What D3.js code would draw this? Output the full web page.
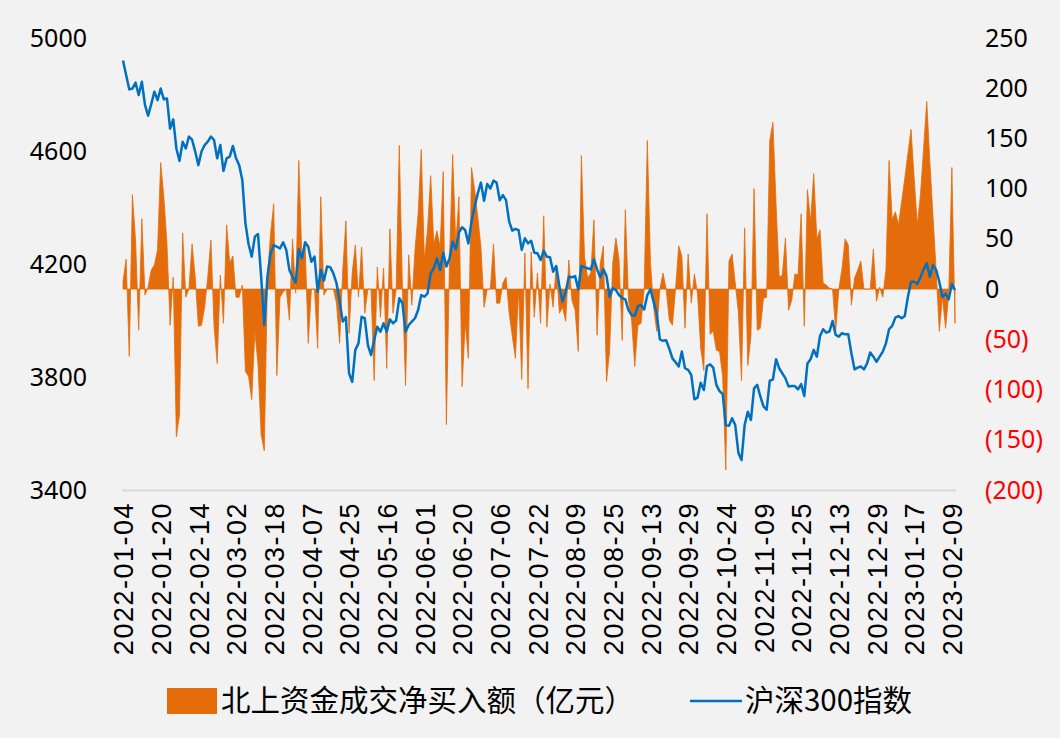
<!DOCTYPE html>
<html><head><meta charset="utf-8">
<script src="https://cdn.jsdelivr.net/npm/d3@7"></script>
<style>
html,body{margin:0;padding:0;background:#f2f2f2;}
svg{display:block;}
</style></head><body>
<svg id="chart" width="1060" height="738"></svg>
<script>
// ---- categories: A-share trading days (weekday closures listed) ----
const startDate = "2022-01-04";
const endDate = "2023-02-10";
const holidays = ["2022-01-03","2022-01-31","2022-02-01","2022-02-02","2022-02-03","2022-02-04",
  "2022-04-04","2022-04-05","2022-05-02","2022-05-03","2022-05-04","2022-06-03","2022-09-12",
  "2022-10-03","2022-10-04","2022-10-05","2022-10-06","2022-10-07",
  "2023-01-02","2023-01-23","2023-01-24","2023-01-25","2023-01-26","2023-01-27"];

// ---- series: northbound net buying (亿元), right axis ----
const netBuy = [
  8,30,-67,94,49,-41,70,-6,2,19,
  24,39,126,92,45,-36,12,-147,-125,56,
  -8,0,45,12,-37,-36,-18,12,49,-37,
  -74,14,-34,64,26,33,-8,-8,4,-82,
  -87,-110,-42,-75,-145,-161,12,55,85,-86,
  -8,-3,0,-31,50,-4,128,29,45,-54,
  0,0,-59,92,-6,0,0,0,-14,-54,
  19,68,-44,16,44,-8,42,-24,0,0,
  -91,22,-28,21,-79,60,-24,0,143,0,
  -96,34,-16,39,75,139,29,59,113,45,
  58,42,117,-135,29,134,45,92,-97,-34,
  -69,121,99,72,42,-18,0,0,45,-14,
  -14,6,12,-24,-47,-69,0,-90,36,-99,
  37,-28,16,-34,73,-38,5,-18,24,-24,
  -18,-32,29,-11,-21,-62,133,32,11,16,
  69,-46,25,43,-92,-61,26,51,29,-51,
  79,-11,-31,-77,-36,-34,0,148,26,-18,
  -42,0,16,0,-31,-36,0,43,33,-39,
  35,-14,15,-5,-59,-81,75,-45,-42,-61,
  -62,-87,-180,28,35,6,-23,-91,61,-76,
  -47,100,-41,-39,-9,-8,148,166,85,12,
  14,51,-21,-11,15,14,75,-37,99,67,
  115,50,59,6,4,1,0,-41,0,20,
  50,44,-16,11,19,28,0,0,0,40,
  -12,2,-8,19,128,69,77,64,87,110,
  135,159,110,64,94,140,187,126,72,18,
  -42,-8,-39,-5,121,-34
];

// ---- series: CSI 300 index, left axis ----
const csi300 = [
  4920,4869,4818,4821,4842,4798,4845,4763,4725,4766,
  4810,4780,4821,4783,4786,4679,4712,4609,4565,4633,
  4609,4651,4640,4598,4550,4598,4621,4633,4651,4639,
  4574,4621,4529,4574,4580,4618,4574,4550,4497,4344,
  4270,4226,4297,4306,4155,3984,4155,4238,4267,4261,
  4255,4277,4250,4179,4155,4134,4253,4220,4277,4261,
  4208,4226,4102,4179,4141,4191,4189,4167,4132,4067,
  3996,4012,3813,3783,3896,3919,4013,4008,3913,3878,
  3931,3978,3960,3990,3960,4004,3990,4000,4079,4061,
  3960,3984,3996,4008,4037,4090,4084,4096,4167,4185,
  4220,4179,4240,4191,4220,4279,4252,4312,4330,4320,
  4273,4350,4403,4450,4488,4424,4483,4467,4495,4488,
  4426,4444,4426,4350,4318,4324,4320,4250,4291,4273,
  4282,4240,4238,4214,4247,4226,4224,4173,4193,4120,
  4067,4102,4155,4153,4157,4110,4193,4188,4185,4181,
  4216,4181,4153,4181,4157,4084,4114,4108,4090,4079,
  4075,4037,4019,4017,4051,4055,4039,4090,4110,4067,
  4025,3933,3928,3930,3900,3866,3852,3837,3890,3831,
  3825,3807,3721,3727,3780,3754,3839,3845,3833,3772,
  3750,3740,3630,3627,3654,3630,3532,3506,3630,3677,
  3648,3760,3772,3731,3696,3684,3787,3791,3863,3831,
  3813,3795,3766,3768,3768,3756,3775,3733,3848,3863,
  3896,3872,3945,3969,3957,3961,3998,3949,3943,3955,
  3951,3951,3884,3827,3833,3837,3827,3848,3887,3872,
  3854,3872,3890,3919,3969,3981,4010,4016,4008,4016,
  4084,4137,4137,4129,4153,4181,4202,4155,4196,4179,
  4137,4084,4094,4075,4129,4108
];

const leftTicks = [3400, 3800, 4200, 4600, 5000];
const rightTicks = [-200, -150, -100, -50, 0, 50, 100, 150, 200, 250];
const labelEvery = 12;
const seriesNames = ["北上资金成交净买入额（亿元）", "沪深300指数"];
const colors = { flow: "#e46c0a", index: "#0070c0" };

// ---- build trading-day categories ----
const fmt = d3.timeFormat("%Y-%m-%d");
const parse = d3.timeParse("%Y-%m-%d");
const hol = new Set(holidays);
const allDays = d3.timeDay.range(parse(startDate), d3.timeDay.offset(parse(endDate), 1))
  .filter(d => d.getDay() !== 0 && d.getDay() !== 6 && !hol.has(fmt(d)))
  .map(fmt);
const n = Math.min(allDays.length, netBuy.length, csi300.length);
const dates = allDays.slice(0, n);
const data = dates.map((d, i) => ({ date: d, flow: netBuy[i], idx: csi300[i] }));

const svg = d3.select("#chart");
svg.append("rect").attr("width", 1060).attr("height", 738).attr("fill", "#f2f2f2");

const x = d3.scalePoint().domain(dates).range([123, 955]);
const yL = d3.scaleLinear().domain([3400, 5000]).range([490, 38]);
const yR = d3.scaleLinear().domain([-200, 250]).range([490, 38]);

// orange area
const area = d3.area().x(d => x(d.date)).y0(yR(0)).y1(d => yR(d.flow));
svg.append("path").datum(data).attr("d", area)
  .attr("fill", colors.flow).attr("stroke", colors.flow).attr("stroke-width", 0.8)
  .attr("stroke-linejoin", "miter");

// bottom axis line
svg.append("line").attr("x1", 122).attr("x2", 956).attr("y1", 490.5).attr("y2", 490.5)
  .attr("stroke", "#d9d9d9").attr("stroke-width", 2);

// blue line
const line = d3.line().x(d => x(d.date)).y(d => yL(d.idx));
svg.append("path").datum(data).attr("d", line)
  .attr("fill", "none").attr("stroke", colors.index).attr("stroke-width", 2.5)
  .attr("stroke-linejoin", "round");

// left axis
const gL = svg.append("g").attr("transform", "translate(123,0)")
  .call(d3.axisLeft(yL).tickValues(leftTicks).tickSize(0).tickPadding(36).tickFormat(d3.format("d")));
gL.select(".domain").remove();
gL.selectAll("text").attr("font-family", "'Noto Sans', 'DejaVu Sans', sans-serif")
  .attr("font-size", 25).attr("fill", "#000");

// right axis
const gR = svg.append("g").attr("transform", "translate(955,0)")
  .call(d3.axisRight(yR).tickValues(rightTicks).tickSize(0).tickPadding(30)
    .tickFormat(d => d < 0 ? "(" + Math.abs(d) + ")" : String(d)));
gR.select(".domain").remove();
gR.selectAll("text").attr("font-family", "'Noto Sans', 'DejaVu Sans', sans-serif")
  .attr("font-size", 25).attr("fill", d => d < 0 ? "#ff0000" : "#000");

// bottom axis labels
const tickDates = dates.filter((d, i) => i % labelEvery === 0);
const gB = svg.append("g").attr("transform", "translate(0,490)")
  .call(d3.axisBottom(x).tickValues(tickDates).tickSize(0));
gB.select(".domain").remove();
gB.selectAll("text")
  .attr("font-family", "'Liberation Sans', Arial, sans-serif")
  .attr("font-size", 27).attr("fill", "#000")
  .attr("letter-spacing", "1.5px")
  .attr("transform", "rotate(-90)")
  .attr("text-anchor", "end")
  .attr("x", -12).attr("y", 0).attr("dy", "0.36em").attr("dx", 0);

// legend
const lg = svg.append("g");
lg.append("rect").attr("x", 167).attr("y", 688).attr("width", 50).attr("height", 26).attr("fill", colors.flow);
lg.append("text").attr("x", 221).attr("y", 711).text(seriesNames[0])
  .attr("font-family", "'Noto Sans CJK SC', sans-serif").attr("font-size", 29.5).attr("fill", "#000");
lg.append("line").attr("x1", 690).attr("x2", 742).attr("y1", 701).attr("y2", 701)
  .attr("stroke", colors.index).attr("stroke-width", 2.5);
lg.append("text").attr("x", 745).attr("y", 711).text(seriesNames[1])
  .attr("font-family", "'Noto Sans CJK SC', sans-serif").attr("font-size", 29.5).attr("fill", "#000");
</script>
</body></html>
